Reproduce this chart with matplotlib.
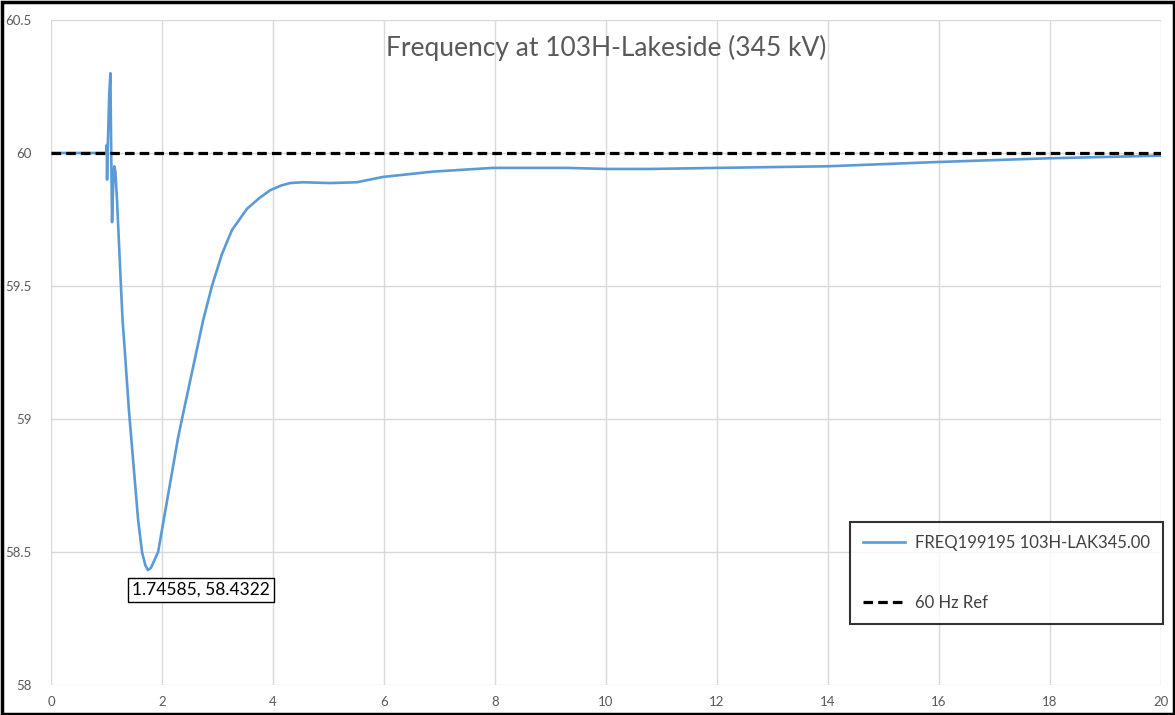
import matplotlib
matplotlib.use("Agg")
import matplotlib.pyplot as plt
from matplotlib.patches import Rectangle
from matplotlib.lines import Line2D

plt.rcParams['font.family'] = ['Lato', 'DejaVu Sans']

# Data
time_s = [0.0, 0.98, 1.0, 1.005, 1.01, 1.02, 1.04, 1.05, 1.07, 1.085, 1.10, 1.12,
          1.14, 1.16, 1.19, 1.26, 1.29, 1.315, 1.405, 1.57, 1.64, 1.70, 1.746,
          1.80, 1.93, 2.29, 2.36, 2.74, 2.90, 3.08, 3.26, 3.53, 3.75, 3.95, 4.15, 4.31, 4.54,
          5.03, 5.51, 5.98, 6.88, 7.96, 8.68, 9.30, 10.02, 10.79, 12.0, 13.98,
          15.96, 17.95, 20.0]
freq_hz = [60.0, 60.0, 60.0, 60.03, 59.90, 60.0, 60.15, 60.22, 60.30, 60.0, 59.74, 59.88,
           59.95, 59.93, 59.82, 59.50, 59.37, 59.30, 59.03, 58.62, 58.50, 58.45, 58.4322,
           58.44, 58.50, 58.93, 59.00, 59.37, 59.50, 59.62, 59.71, 59.79, 59.83, 59.86, 59.878, 59.887, 59.89,
           59.887, 59.89, 59.91, 59.93, 59.944, 59.944, 59.944, 59.94, 59.94, 59.944, 59.95,
           59.966, 59.98, 59.99]
ref_x = [0, 20]
ref_y = [60, 60]
x_ticks = [0, 2, 4, 6, 8, 10, 12, 14, 16, 18, 20]
y_ticks = [58, 58.5, 59, 59.5, 60, 60.5]
y_tick_labels = ['58', '58.5', '59', '59.5', '60', '60.5']

title = "Frequency at 103H-Lakeside (345 kV)"
series_label = "FREQ199195 103H-LAK345.00"
ref_label = "60 Hz Ref"
min_label = "1.74585, 58.4322"

W, H = 1175, 715
fig = plt.figure(figsize=(W / 100, H / 100), dpi=100)
ax = fig.add_axes([51 / W, 1 - 685 / H, 1110 / W, 665 / H])

line_color = '#5B9BD5'
ax.plot(time_s, freq_hz, color=line_color, lw=1.9, zorder=3, solid_joinstyle='round')
ax.plot(ref_x, ref_y, color='black', lw=2.3, ls=(0, (3, 1.6)), zorder=4)

ax.set_xlim(0, 20)
ax.set_ylim(58, 60.5)
ax.set_xticks(x_ticks)
ax.set_yticks(y_ticks)
ax.set_yticklabels(y_tick_labels)
ax.grid(True, color='#D9D9D9', lw=1)
ax.set_axisbelow(True)
for s in ax.spines.values():
    s.set_visible(False)
ax.tick_params(length=0, labelsize=9.5, colors='#595959', pad=8)
ax.tick_params(axis='y', pad=14)

ax.text(0.5, 0.958, title, transform=ax.transAxes, ha='center', va='center',
        fontsize=19, color='#595959')

ax.annotate(min_label, xy=(1.746, 58.4322), xytext=(2.70, 58.357),
            textcoords='data', ha='center', va='center', fontsize=12.5, color='black',
            bbox=dict(boxstyle='square,pad=0.22', fc='white', ec='black', lw=1))

handles = [Line2D([], [], color=line_color, lw=1.9),
           Line2D([], [], color='black', lw=2.3, ls=(0, (3, 1.6)))]
leg = ax.legend(handles, [series_label, ref_label], loc='upper left',
                bbox_to_anchor=((850 - 51) / 1110, (685 - 522) / 665),
                frameon=True, fancybox=False, fontsize=12, labelspacing=2.6,
                handlelength=2.5, handletextpad=0.6, borderpad=0.8, borderaxespad=0)
leg.get_frame().set_edgecolor('black')
leg.get_frame().set_linewidth(1.5)
for t in leg.get_texts():
    t.set_color('#404040')

fig.patches.append(Rectangle((1.5 / W, 1.5 / H), 1 - 3 / W, 1 - 3 / H,
                             transform=fig.transFigure, fill=False,
                             ec='black', lw=2.5))

fig.savefig('out.png', dpi=100)
